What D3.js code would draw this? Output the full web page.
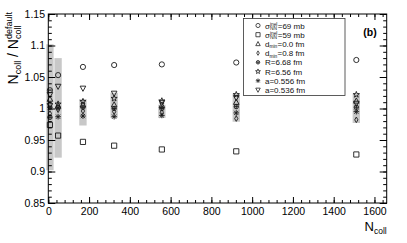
<!DOCTYPE html>
<html>
<head>
<meta charset="utf-8">
<script src="https://cdn.jsdelivr.net/npm/d3@7"></script>
<style>
  body { margin: 0; background: #fff; }
  svg { display: block; font-family: "Liberation Sans", Arial, sans-serif; }
</style>
</head>
<body>
<svg id="chart" width="407" height="243"></svg>
<script>
// Ncoll centre of each centrality class
const ncoll = [8, 48, 170, 323, 557, 922, 1511];

// ratio Ncoll / Ncoll(default) for each variation
const sig69  = [1.029, 1.053, 1.066, 1.069, 1.070, 1.073, 1.077];
const sig59  = [0.974, 0.957, 0.947, 0.941, 0.935, 0.932, 0.927];
const dmin00 = [1.015, 1.004, 1.006, 1.006, 1.005, 1.010, 1.012];
const dmin08 = [0.992, 0.998, 0.996, 0.995, 0.994, 0.984, 0.982];
const r668   = [0.986, 1.001, 1.002, 1.000, 1.000, 1.003, 1.002];
const r656   = [1.006, 1.007, 1.011, 1.016, 1.012, 1.022, 1.022];
const a556   = [1.002, 0.987, 0.988, 0.987, 0.989, 0.993, 0.995];
const a536   = [1.022, 1.035, 1.032, 1.024, 1.009, 1.017, 1.008];

// systematic band (grey boxes)
const bandLo = [0.902, 0.922, 0.973, 0.985, 0.985, 0.979, 0.977];
const bandHi = [1.102, 1.080, 1.015, 1.025, 1.006, 1.024, 1.024];

const xTicks = [0, 200, 400, 600, 800, 1000, 1200, 1400, 1600];
const yTicks = [0.85, 0.9, 0.95, 1, 1.05, 1.1, 1.15];
const yTickLabels = ["0.85", "0.9", "0.95", "1", "1.05", "1.1", "1.15"];

// label: [main, subscript, superscript, rest]
const series = [
  { key: "sig69",  values: sig69,  marker: "circle",  label: ["σ", "NN", "inel", "=69 mb"] },
  { key: "sig59",  values: sig59,  marker: "square",  label: ["σ", "NN", "inel", "=59 mb"] },
  { key: "dmin00", values: dmin00, marker: "triUp",   label: ["d", "min", "", "=0.0 fm"] },
  { key: "dmin08", values: dmin08, marker: "diamond", label: ["d", "min", "", "=0.8 fm"] },
  { key: "r668",   values: r668,   marker: "circPlus",label: ["R=6.68 fm"] },
  { key: "r656",   values: r656,   marker: "star",    label: ["R=6.56 fm"] },
  { key: "a556",   values: a556,   marker: "aster",   label: ["a=0.556 fm"] },
  { key: "a536",   values: a536,   marker: "triDown", label: ["a=0.536 fm"] }
];

const svg = d3.select("#chart");
const m = { left: 48.3, right: 386.7, top: 14, bottom: 203 };

const x = d3.scaleLinear().domain([0, 1660]).range([m.left, m.right]);
const y = d3.scaleLinear().domain([0.85, 1.15]).range([m.bottom, m.top]);

// grey bands
const bandW = 36;
svg.append("g").selectAll("rect")
    .data(ncoll)
    .enter().append("rect")
    .attr("x", d => x(d - bandW / 2))
    .attr("width", x(bandW) - x(0))
    .attr("y", (d, i) => y(bandHi[i]))
    .attr("height", (d, i) => y(bandLo[i]) - y(bandHi[i]))
    .attr("fill", "#c8c8c8");

// marker paths centred on 0,0
function markerPath(type, s) {
  s = s || 1;
  const p = d3.path();
  switch (type) {
    case "circle":
      p.moveTo(2.6 * s, 0); p.arc(0, 0, 2.6 * s, 0, 2 * Math.PI); break;
    case "square":
      p.rect(-2.6 * s, -2.6 * s, 5.2 * s, 5.2 * s); break;
    case "triUp":
      p.moveTo(0, -3 * s); p.lineTo(2.8 * s, 2.2 * s); p.lineTo(-2.8 * s, 2.2 * s); p.closePath(); break;
    case "triDown":
      p.moveTo(0, 3 * s); p.lineTo(2.8 * s, -2.2 * s); p.lineTo(-2.8 * s, -2.2 * s); p.closePath(); break;
    case "diamond":
      p.moveTo(0, -2.8 * s); p.lineTo(1.6 * s, 0); p.lineTo(0, 2.8 * s); p.lineTo(-1.6 * s, 0); p.closePath(); break;
    case "circPlus":
      p.moveTo(2.2 * s, 0); p.arc(0, 0, 2.2 * s, 0, 2 * Math.PI);
      p.moveTo(-2.2 * s, 0); p.lineTo(2.2 * s, 0); p.moveTo(0, -2.2 * s); p.lineTo(0, 2.2 * s); break;
    case "star": {
      for (let k = 0; k < 10; k++) {
        const r = (k % 2 ? 1.3 : 3.2) * s, a = -Math.PI / 2 + k * Math.PI / 5;
        const px = r * Math.cos(a), py = r * Math.sin(a);
        k ? p.lineTo(px, py) : p.moveTo(px, py);
      }
      p.closePath(); break;
    }
    case "aster":
      p.moveTo(-2.8 * s, 0); p.lineTo(2.8 * s, 0);
      p.moveTo(0, -2.8 * s); p.lineTo(0, 2.8 * s);
      p.moveTo(-2.1 * s, -2.1 * s); p.lineTo(2.1 * s, 2.1 * s);
      p.moveTo(-2.1 * s, 2.1 * s); p.lineTo(2.1 * s, -2.1 * s); break;
  }
  return p.toString();
}

// markers
series.forEach(s => {
  svg.append("g").attr("class", "series-" + s.key)
    .selectAll("path")
    .data(s.values)
    .enter().append("path")
    .attr("transform", (d, i) => `translate(${x(ncoll[i])},${y(d)})`)
    .attr("d", markerPath(s.marker))
    .attr("fill", "none")
    .attr("stroke", "#1a1a1a")
    .attr("stroke-width", 0.9);
});

// axes
function styleAxis(g) {
  g.select(".domain").remove();
  g.selectAll("line").attr("stroke", "#000");
  g.selectAll("text").attr("fill", "#000").attr("font-size", 10.5)
    .attr("font-family", "Liberation Sans, Arial, sans-serif");
}
const xMinor = d3.range(0, 1661, 40);
const yMinor = d3.range(0, 31).map(i => 0.85 + i * 0.01);

svg.append("g").attr("transform", `translate(0,${m.bottom})`)
  .call(d3.axisBottom(x).tickValues(xMinor).tickSizeInner(-3).tickSizeOuter(0).tickFormat(""))
  .call(styleAxis);
svg.append("g").attr("transform", `translate(0,${m.bottom})`)
  .call(d3.axisBottom(x).tickValues(xTicks).tickSizeInner(-6).tickSizeOuter(0).tickPadding(4.5)
    .tickFormat(d3.format("d")))
  .call(styleAxis);
svg.append("g").attr("transform", `translate(0,${m.top})`)
  .call(d3.axisTop(x).tickValues(xMinor).tickSizeInner(-3).tickSizeOuter(0).tickFormat(""))
  .call(styleAxis);
svg.append("g").attr("transform", `translate(0,${m.top})`)
  .call(d3.axisTop(x).tickValues(xTicks).tickSizeInner(-6).tickSizeOuter(0).tickFormat(""))
  .call(styleAxis);

svg.append("g").attr("transform", `translate(${m.left},0)`)
  .call(d3.axisLeft(y).tickValues(yMinor).tickSizeInner(-3.5).tickSizeOuter(0).tickFormat(""))
  .call(styleAxis);
svg.append("g").attr("transform", `translate(${m.left},0)`)
  .call(d3.axisLeft(y).tickValues(yTicks).tickSizeInner(-7).tickSizeOuter(0).tickPadding(3.3)
    .tickFormat((d, i) => yTickLabels[i]))
  .call(styleAxis);
svg.append("g").attr("transform", `translate(${m.right},0)`)
  .call(d3.axisRight(y).tickValues(yMinor).tickSizeInner(-3.5).tickSizeOuter(0).tickFormat(""))
  .call(styleAxis);
svg.append("g").attr("transform", `translate(${m.right},0)`)
  .call(d3.axisRight(y).tickValues(yTicks).tickSizeInner(-7).tickSizeOuter(0).tickFormat(""))
  .call(styleAxis);

// frame
svg.append("rect")
  .attr("x", m.left).attr("y", m.top)
  .attr("width", m.right - m.left).attr("height", m.bottom - m.top)
  .attr("fill", "none").attr("stroke", "#000").attr("stroke-width", 1);

// text with stacked sub/superscript after a main glyph, all in one <text>
function stacked(t, x0, main, sub, sup, rest, sfs, up, down) {
  const a = t.append("tspan").attr("x", x0).text(main);
  const w = a.node().getComputedTextLength();
  let ws = 0;
  if (sup) {
    const b = t.append("tspan").attr("x", x0 + w).attr("dy", -up).attr("font-size", sfs).text(sup);
    ws = b.node().getComputedTextLength();
    const c = t.append("tspan").attr("x", x0 + w).attr("dy", up + down).attr("font-size", sfs).text(sub);
    ws = Math.max(ws, c.node().getComputedTextLength());
  } else {
    const c = t.append("tspan").attr("x", x0 + w).attr("dy", down).attr("font-size", sfs).text(sub);
    ws = c.node().getComputedTextLength();
  }
  if (rest) t.append("tspan").attr("x", x0 + w + ws + 0.3).attr("dy", -down).text(rest);
}

// axis titles
const xt = svg.append("text").attr("y", 231).attr("font-size", 13);
stacked(xt, 0, "N", "coll", "", "", 8.5, 0, 3);
xt.attr("transform", `translate(${m.right - xt.node().getComputedTextLength()},0)`);

const yt = svg.append("text").attr("font-size", 14);
const ya = yt.append("tspan").attr("x", 0).text("N");
const yb = yt.append("tspan").attr("font-size", 9).attr("dy", 3).text("coll");
const yw = ya.node().getComputedTextLength() + yb.node().getComputedTextLength();
const yc = yt.append("tspan").attr("dy", -3).text(" / N");
const yw2 = yw + yc.node().getComputedTextLength();
const yd = yt.append("tspan").attr("x", yw2).attr("font-size", 9).attr("dy", -6).text("default");
yt.append("tspan").attr("x", yw2).attr("font-size", 9).attr("dy", 9).text("coll");
const ytot = yw2 + yd.node().getComputedTextLength();
yt.attr("transform", `translate(18,${12 + ytot}) rotate(-90)`);

// panel label
svg.append("text").attr("x", 370).attr("y", 36)
  .attr("text-anchor", "middle").attr("font-size", 10.5).attr("font-weight", "bold")
  .text("(b)");

// legend
const leg = svg.append("g");
leg.append("rect").attr("x", 243.5).attr("y", 18.5).attr("width", 101.5).attr("height", 77)
  .attr("fill", "#fff").attr("stroke", "#333").attr("stroke-width", 0.8);
series.forEach((s, i) => {
  const yy = 25.5 + i * 9.2;
  leg.append("path").attr("transform", `translate(258,${yy})`)
    .attr("d", markerPath(s.marker, 0.8))
    .attr("fill", "none").attr("stroke", "#222").attr("stroke-width", 0.8);
  const t = leg.append("text").attr("y", yy + 3).attr("font-size", 8).attr("fill", "#111");
  if (s.label.length === 1) {
    t.attr("x", 265).text(s.label[0]);
  } else {
    stacked(t, 265, s.label[0], s.label[1], s.label[2], s.label[3], 4.8, 2.6, 1.5);
  }
});
</script>
</body>
</html>
